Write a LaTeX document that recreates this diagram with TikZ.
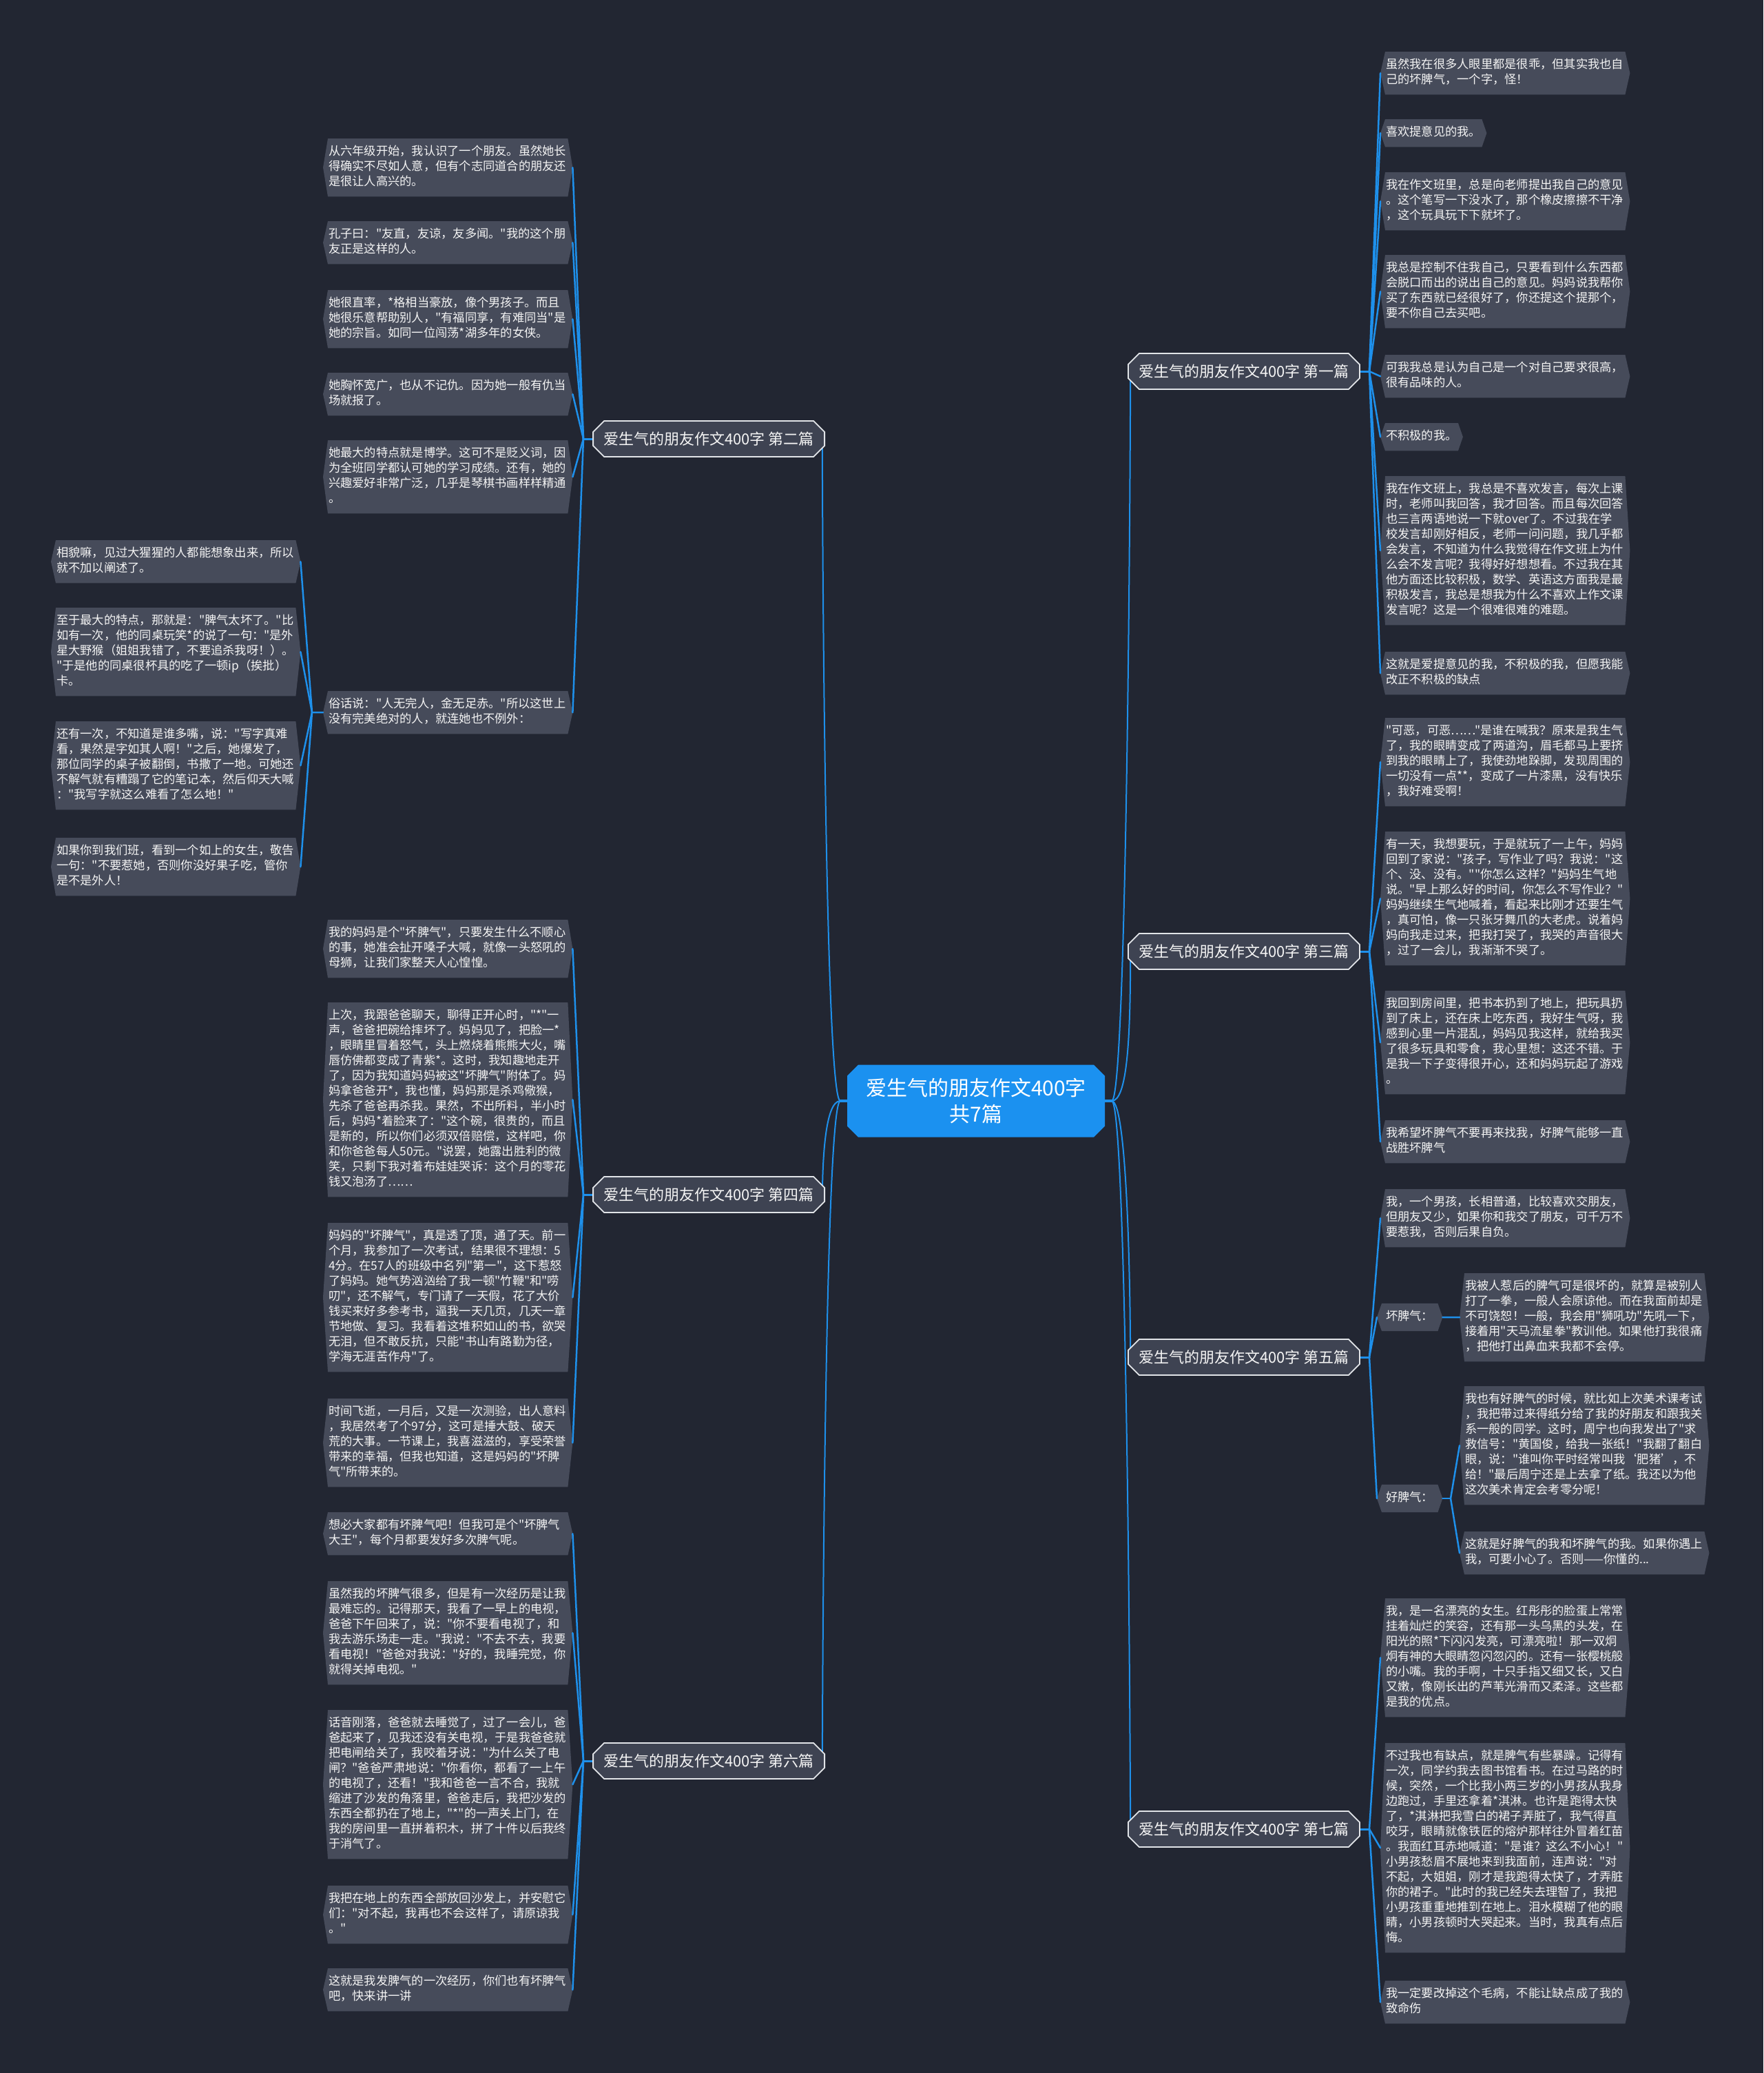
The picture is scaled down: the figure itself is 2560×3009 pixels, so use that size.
\documentclass[tikz,border=0pt]{standalone}
\usepackage{fontspec}
\newfontfamily\cjk{Noto Sans CJK SC}
\usetikzlibrary{calc,shapes.misc}
\definecolor{bgc}{RGB}{34,38,50}
\definecolor{leaff}{RGB}{70,75,90}
\definecolor{brf}{RGB}{62,67,82}
\definecolor{brd}{RGB}{225,228,232}
\definecolor{cblue}{RGB}{30,144,235}
\definecolor{cen}{RGB}{27,145,240}
\definecolor{txt}{RGB}{244,244,244}
\pgfdeclarelayer{bgl}
\pgfdeclarelayer{mid}
\pgfsetlayers{bgl,mid,main}
\newcommand\leaffont{\cjk\fontsize{17.25pt}{22pt}\selectfont}
\let\qstop\relax
\def\dolines#1{\dolinesA#1|\qstop}
\def\dolinesA#1|#2\qstop{\strut#1\ifx\relax#2\relax\else\\\dolinesA#2\qstop\fi}
\newcommand\hexbg[1]{%
  \coordinate (#1-l) at ($(#1.west)+(-7pt,0)$);
  \coordinate (#1-r) at ($(#1.east)+(7pt,0)$);
  \begin{pgfonlayer}{mid}
    \fill[leaff] (#1.north west) -- (#1.north east) -- (#1-r) -- (#1.south east) -- (#1.south west) -- (#1-l) -- cycle;
  \end{pgfonlayer}}
\newcommand\leafnode[4][leaf]{\node[#1] (#2) at (#3) {\dolines{#4}};\hexbg{#2}}
\begin{document}
\begin{tikzpicture}[x=1pt,y=-1pt,
  leaf/.style={font=\leaffont, text=txt, align=left, text width=346pt, inner xsep=1pt, inner ysep=9pt, anchor=north west},
  shortleaf/.style={font=\leaffont, text=txt, align=left, inner xsep=1pt, inner ysep=9pt, anchor=north west},
  subleaf/.style={font=\leaffont, text=txt, inner xsep=6pt, inner ysep=9pt, anchor=west},
  branch/.style={chamfered rectangle, chamfered rectangle xsep=8pt, chamfered rectangle ysep=8pt,
     draw=brd, line width=1.8pt, fill=brf, text=txt,
     font=\cjk\fontsize{22pt}{26pt}\selectfont, minimum height=52pt, minimum width=336pt, inner xsep=4pt, inner ysep=4pt},
  centre/.style={chamfered rectangle, chamfered rectangle xsep=8pt, chamfered rectangle ysep=8pt,
     fill=cen, text=white, align=center,
     font=\cjk\fontsize{30pt}{38pt}\selectfont, minimum height=105pt, minimum width=374pt},
  link/.style={draw=cblue, line width=2.5pt, line cap=round},
  trunk/.style={draw=cblue, line width=2pt, line cap=round}]
\useasboundingbox (0,0) rectangle (2560,3009);
\begin{pgfonlayer}{bgl}
  \fill[bgc] (0,0) rectangle (2560,3009);
\end{pgfonlayer}

% centre and branches
\node[centre] (ce) at (1417,1598) {爱生气的朋友作文400字\\共7篇};
\node[branch, anchor=west] (b1) at (1637,539) {爱生气的朋友作文400字 第一篇};
\node[branch, anchor=west] (b3) at (1637,1381) {爱生气的朋友作文400字 第三篇};
\node[branch, anchor=west] (b5) at (1637,1970) {爱生气的朋友作文400字 第五篇};
\node[branch, anchor=west] (b7) at (1637,2655) {爱生气的朋友作文400字 第七篇};
\node[branch, anchor=east] (b2) at (1198,637) {爱生气的朋友作文400字 第二篇};
\node[branch, anchor=east] (b4) at (1198,1734) {爱生气的朋友作文400字 第四篇};
\node[branch, anchor=east] (b6) at (1198,2556) {爱生气的朋友作文400字 第六篇};

% ---- 第一篇
\leafnode{r1a}{2011,75}{虽然我在很多人眼里都是很乖，但其实我也自|己的坏脾气，一个字，怪！}
\leafnode[shortleaf]{r1b}{2011,173}{喜欢提意见的我。}
\leafnode{r1c}{2011,250}{我在作文班里，总是向老师提出我自己的意见|。这个笔写一下没水了，那个橡皮擦擦不干净|，这个玩具玩下下就坏了。}
\leafnode{r1d}{2011,370}{我总是控制不住我自己，只要看到什么东西都|会脱口而出的说出自己的意见。妈妈说我帮你|买了东西就已经很好了，你还提这个提那个，|要不你自己去买吧。}
\leafnode{r1e}{2011,515}{可我我总是认为自己是一个对自己要求很高，|很有品味的人。}
\leafnode[shortleaf]{r1f}{2011,614}{不积极的我。}
\leafnode{r1g}{2011,691}{我在作文班上，我总是不喜欢发言，每次上课|时，老师叫我回答，我才回答。而且每次回答|也三言两语地说一下就over了。不过我在学|校发言却刚好相反，老师一问问题，我几乎都|会发言，不知道为什么我觉得在作文班上为什|么会不发言呢？我得好好想想看。不过我在其|他方面还比较积极，数学、英语这方面我是最|积极发言，我总是想我为什么不喜欢上作文课|发言呢？这是一个很难很难的难题。}
\leafnode{r1h}{2011,946}{这就是爱提意见的我，不积极的我，但愿我能|改正不积极的缺点}

% ---- 第三篇
\leafnode{r3a}{2011,1042}{"可恶，可恶……"是谁在喊我？原来是我生气|了，我的眼睛变成了两道沟，眉毛都马上要挤|到我的眼睛上了，我使劲地跺脚，发现周围的|一切没有一点**，变成了一片漆黑，没有快乐|，我好难受啊！}
\leafnode{r3b}{2011,1207}{有一天，我想要玩，于是就玩了一上午，妈妈|回到了家说："孩子，写作业了吗？我说："这|个、没、没有。""你怎么这样？"妈妈生气地|说。"早上那么好的时间，你怎么不写作业？"|妈妈继续生气地喊着，看起来比刚才还要生气|，真可怕，像一只张牙舞爪的大老虎。说着妈|妈向我走过来，把我打哭了，我哭的声音很大|，过了一会儿，我渐渐不哭了。}
\leafnode{r3c}{2011,1438}{我回到房间里，把书本扔到了地上，把玩具扔|到了床上，还在床上吃东西，我好生气呀，我|感到心里一片混乱，妈妈见我这样，就给我买|了很多玩具和零食，我心里想：这还不错。于|是我一下子变得很开心，还和妈妈玩起了游戏|。}
\leafnode{r3d}{2011,1626}{我希望坏脾气不要再来找我，好脾气能够一直|战胜坏脾气}

% ---- 第五篇
\leafnode{r5a}{2011,1726}{我，一个男孩，长相普通，比较喜欢交朋友，|但朋友又少，如果你和我交了朋友，可千万不|要惹我，否则后果自负。}
\leafnode[subleaf]{bad}{2006,1912}{坏脾气：}
\leafnode[subleaf]{good}{2006,2175}{好脾气：}
\leafnode{badc}{2126,1848}{我被人惹后的脾气可是很坏的，就算是被别人|打了一拳，一般人会原谅他。而在我面前却是|不可饶恕！一般，我会用"狮吼功"先吼一下，|接着用"天马流星拳"教训他。如果他打我很痛|，把他打出鼻血来我都不会停。}
\leafnode{g1}{2126,2012}{我也有好脾气的时候，就比如上次美术课考试|，我把带过来得纸分给了我的好朋友和跟我关|系一般的同学。这时，周宁也向我发出了"求|救信号："黄国俊，给我一张纸！"我翻了翻白|眼，说："谁叫你平时经常叫我‘肥猪’，不|给！"最后周宁还是上去拿了纸。我还以为他|这次美术肯定会考零分呢！}
\leafnode{g2}{2126,2223}{这就是好脾气的我和坏脾气的我。如果你遇上|我，可要小心了。否则——你懂的...}

% ---- 第七篇
\leafnode{r7a}{2011,2320}{我，是一名漂亮的女生。红彤彤的脸蛋上常常|挂着灿烂的笑容，还有那一头乌黑的头发，在|阳光的照*下闪闪发亮，可漂亮啦！那一双炯|炯有神的大眼睛忽闪忽闪的。还有一张樱桃般|的小嘴。我的手啊，十只手指又细又长，又白|又嫩，像刚长出的芦苇光滑而又柔泽。这些都|是我的优点。}
\leafnode{r7b}{2011,2530}{不过我也有缺点，就是脾气有些暴躁。记得有|一次，同学约我去图书馆看书。在过马路的时|候，突然，一个比我小两三岁的小男孩从我身|边跑过，手里还拿着*淇淋。也许是跑得太快|了，*淇淋把我雪白的裙子弄脏了，我气得直|咬牙，眼睛就像铁匠的熔炉那样往外冒着红苗|。我面红耳赤地喊道："是谁？这么不小心！"|小男孩愁眉不展地来到我面前，连声说："对|不起，大姐姐，刚才是我跑得太快了，才弄脏|你的裙子。"此时的我已经失去理智了，我把|小男孩重重地推到在地上。泪水模糊了他的眼|睛，小男孩顿时大哭起来。当时，我真有点后|悔。}
\leafnode{r7c}{2011,2875}{我一定要改掉这个毛病，不能让缺点成了我的|致命伤}

% ---- 第二篇
\leafnode{l2a}{476,201}{从六年级开始，我认识了一个朋友。虽然她长|得确实不尽如人意，但有个志同道合的朋友还|是很让人高兴的。}
\leafnode{l2b}{476,321}{孔子曰："友直，友谅，友多闻。"我的这个朋|友正是这样的人。}
\leafnode{l2c}{476,421}{她很直率，*格相当豪放，像个男孩子。而且|她很乐意帮助别人，"有福同享，有难同当"是|她的宗旨。如同一位闯荡*湖多年的女侠。}
\leafnode{l2d}{476,541}{她胸怀宽广，也从不记仇。因为她一般有仇当|场就报了。}
\leafnode{l2e}{476,639}{她最大的特点就是博学。这可不是贬义词，因|为全班同学都认可她的学习成绩。还有，她的|兴趣爱好非常广泛，几乎是琴棋书画样样精通|。}
\leafnode{l2f}{476,1003}{俗话说："人无完人，金无足赤。"所以这世上|没有完美绝对的人，就连她也不例外：}
\leafnode{f1}{81,784}{相貌嘛，见过大猩猩的人都能想象出来，所以|就不加以阐述了。}
\leafnode{f2}{81,882}{至于最大的特点，那就是："脾气太坏了。"比|如有一次，他的同桌玩笑*的说了一句："是外|星大野猴（姐姐我错了，不要追杀我呀！）。|"于是他的同桌很杯具的吃了一顿ip（挨批）|卡。}
\leafnode{f3}{81,1047}{还有一次，不知道是谁多嘴，说："写字真难|看，果然是字如其人啊！"之后，她爆发了，|那位同学的桌子被翻倒，书撒了一地。可她还|不解气就有糟蹋了它的笔记本，然后仰天大喊|："我写字就这么难看了怎么地！"}
\leafnode{f4}{81,1216}{如果你到我们班，看到一个如上的女生，敬告|一句："不要惹她，否则你没好果子吃，管你|是不是外人！}

% ---- 第四篇
\leafnode{l4a}{476,1335}{我的妈妈是个"坏脾气"，只要发生什么不顺心|的事，她准会扯开嗓子大喊，就像一头怒吼的|母狮，让我们家整天人心惶惶。}
\leafnode{l4b}{476,1455}{上次，我跟爸爸聊天，聊得正开心时，"*"一|声，爸爸把碗给摔坏了。妈妈见了，把脸一*|，眼睛里冒着怒气，头上燃烧着熊熊大火，嘴|唇仿佛都变成了青紫*。这时，我知趣地走开|了，因为我知道妈妈被这"坏脾气"附体了。妈|妈拿爸爸开*，我也懂，妈妈那是杀鸡儆猴，|先杀了爸爸再杀我。果然，不出所料，半小时|后，妈妈*着脸来了："这个碗，很贵的，而且|是新的，所以你们必须双倍赔偿，这样吧，你|和你爸爸每人50元。"说罢，她露出胜利的微|笑，只剩下我对着布娃娃哭诉：这个月的零花|钱又泡汤了……}
\leafnode{l4c}{476,1775}{妈妈的"坏脾气"，真是透了顶，通了天。前一|个月，我参加了一次考试，结果很不理想：5|4分。在57人的班级中名列"第一"，这下惹怒|了妈妈。她气势汹汹给了我一顿"竹鞭"和"唠|叨"，还不解气，专门请了一天假，花了大价|钱买来好多参考书，逼我一天几页，几天一章|节地做、复习。我看着这堆积如山的书，欲哭|无泪，但不敢反抗，只能"书山有路勤为径，|学海无涯苦作舟"了。}
\leafnode{l4d}{476,2030}{时间飞逝，一月后，又是一次测验，出人意料|，我居然考了个97分，这可是捶大鼓、破天|荒的大事。一节课上，我喜滋滋的，享受荣誉|带来的幸福，但我也知道，这是妈妈的"坏脾|气"所带来的。}

% ---- 第六篇
\leafnode{l6a}{476,2195}{想必大家都有坏脾气吧！但我可是个"坏脾气|大王"，每个月都要发好多次脾气呢。}
\leafnode{l6b}{476,2295}{虽然我的坏脾气很多，但是有一次经历是让我|最难忘的。记得那天，我看了一早上的电视，|爸爸下午回来了，说："你不要看电视了，和|我去游乐场走一走。"我说："不去不去，我要|看电视！"爸爸对我说："好的，我睡完觉，你|就得关掉电视。"}
\leafnode{l6c}{476,2482}{话音刚落，爸爸就去睡觉了，过了一会儿，爸|爸起来了，见我还没有关电视，于是我爸爸就|把电闸给关了，我咬着牙说："为什么关了电|闸？"爸爸严肃地说："你看你，都看了一上午|的电视了，还看！"我和爸爸一言不合，我就|缩进了沙发的角落里，爸爸走后，我把沙发的|东西全都扔在了地上，"*"的一声关上门，在|我的房间里一直拼着积木，拼了十件以后我终|于消气了。}
\leafnode{l6d}{476,2737}{我把在地上的东西全部放回沙发上，并安慰它|们："对不起，我再也不会这样了，请原谅我|。"}
\leafnode{l6e}{476,2857}{这就是我发脾气的一次经历，你们也有坏脾气|吧，快来讲一讲}

% ---- connectors
\coordinate (cR) at (1614,1598);
\coordinate (cL) at (1220,1598);
\coordinate (j1) at (1988,539);
\coordinate (j3) at (1988,1381);
\coordinate (j5) at (1988,1970);
\coordinate (j7) at (1988,2655);
\coordinate (jg) at (2106,2175);
\coordinate (j2) at (847,637);
\coordinate (j4) at (847,1734);
\coordinate (j6) at (847,2556);
\coordinate (jf) at (453,1034);
\begin{pgfonlayer}{mid}
  \draw[link, line width=4pt] (ce.east) -- (cR);
  \draw[link, line width=4pt] (ce.west) -- (cL);
  \foreach \b/\d in {b1/120,b3/120,b5/-120,b7/-120}
    \draw[trunk] (cR) .. controls +(22,0) and +(0,\d) .. ($(\b.south west)!0.5!(\b.west)$);
  \foreach \b/\d in {b2/120,b4/-60,b6/-120}
    \draw[trunk] (cL) .. controls +(-22,0) and +(0,\d) .. ($(\b.south east)!0.5!(\b.east)$);
  \draw[link, line width=3pt] (b1.east) -- (j1);
  \foreach \n in {r1a,r1b,r1c,r1d,r1e,r1f,r1g,r1h} \draw[link] (j1) -- (\n-l);
  \draw[link, line width=3pt] (b3.east) -- (j3);
  \foreach \n in {r3a,r3b,r3c,r3d} \draw[link] (j3) -- (\n-l);
  \draw[link, line width=3pt] (b5.east) -- (j5);
  \foreach \n in {r5a,bad,good} \draw[link] (j5) -- (\n-l);
  \draw[link] (bad-r) -- (badc-l);
  \draw[link] (good-r) -- (jg);
  \foreach \n in {g1,g2} \draw[link] (jg) -- (\n-l);
  \draw[link, line width=3pt] (b7.east) -- (j7);
  \foreach \n in {r7a,r7b,r7c} \draw[link] (j7) -- (\n-l);
  \draw[link, line width=3pt] (b2.west) -- (j2);
  \foreach \n in {l2a,l2b,l2c,l2d,l2e,l2f} \draw[link] (j2) -- (\n-r);
  \draw[link] (l2f-l) -- (jf);
  \foreach \n in {f1,f2,f3,f4} \draw[link] (jf) -- (\n-r);
  \draw[link, line width=3pt] (b4.west) -- (j4);
  \foreach \n in {l4a,l4b,l4c,l4d} \draw[link] (j4) -- (\n-r);
  \draw[link, line width=3pt] (b6.west) -- (j6);
  \foreach \n in {l6a,l6b,l6c,l6d,l6e} \draw[link] (j6) -- (\n-r);
\end{pgfonlayer}
\end{tikzpicture}
\end{document}
